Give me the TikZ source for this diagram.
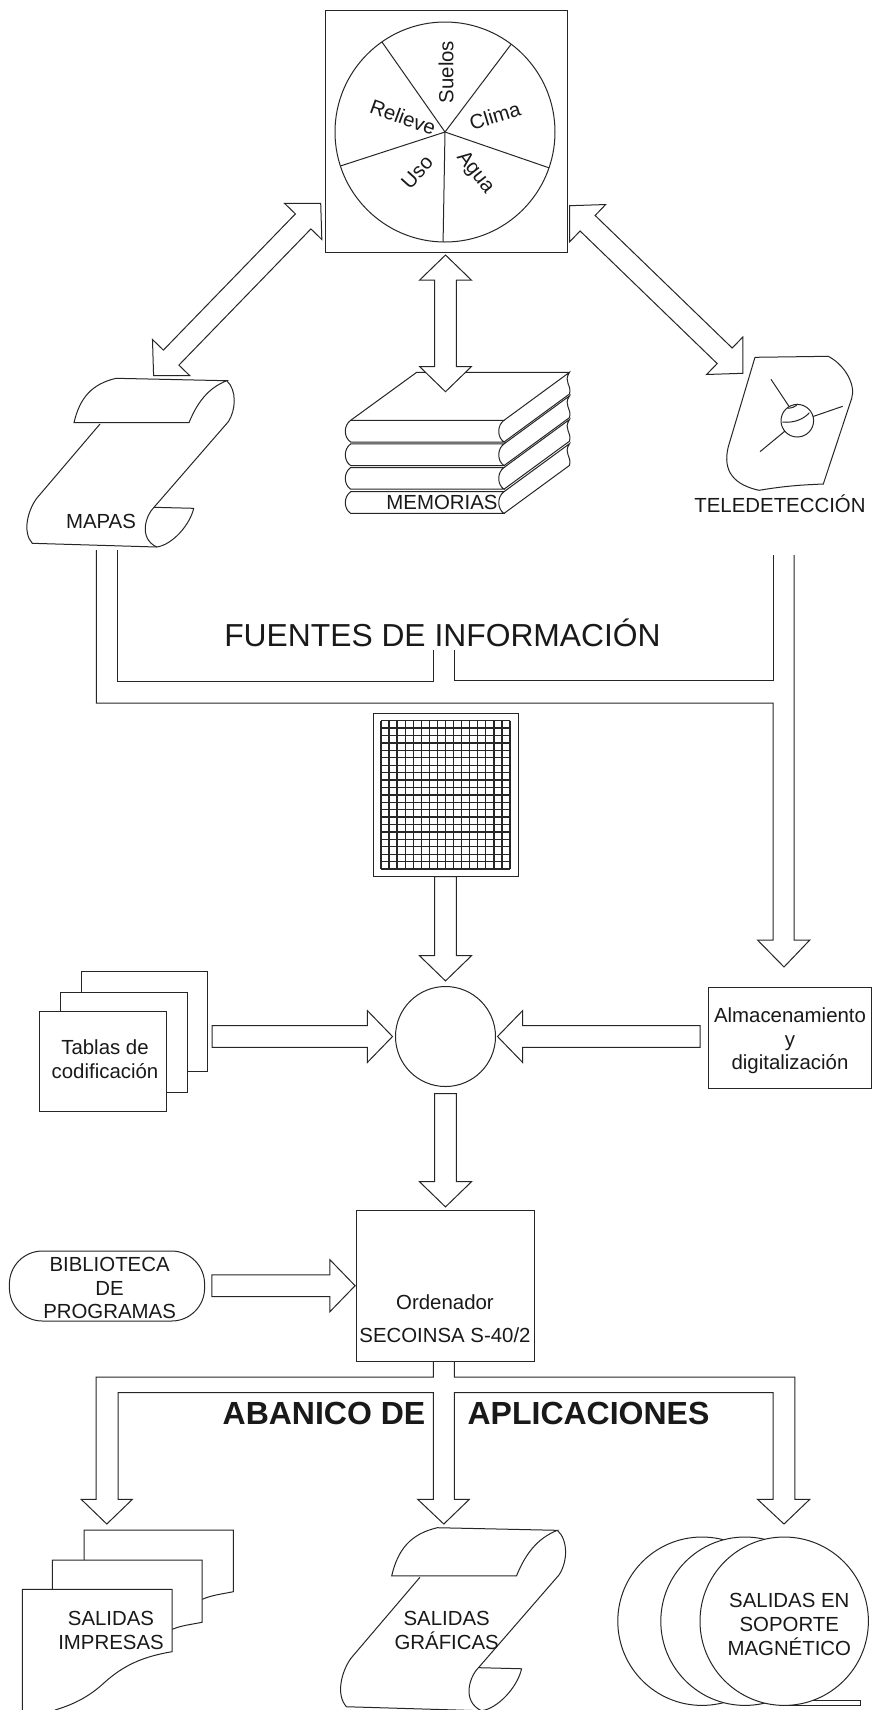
\documentclass[tikz,border=0pt]{standalone}
\usepackage{fontspec}
\setmainfont{Liberation Sans}
\usetikzlibrary{calc}

\tikzset{
  linea/.style={line width=0.5pt, black!85},
  caja/.style={linea, draw, rectangle, fill=white, inner sep=0pt, outer sep=0pt},
  disco/.style={linea, draw, circle, fill=white, inner sep=0pt, outer sep=0pt},
  bloque/.style={linea, fill=white, line join=miter},
  etiqueta/.style={black!90, inner sep=0pt, align=center, font=\fontsize{10.2}{11.8}\selectfont},
  titulo/.style={black!90, inner sep=0pt, font=\fontsize{15.9}{18}\selectfont},
  pics/rollo/.style={code={
    \draw[bloque] (48.3,44.4) .. controls (54,19.7) and (66,5.7) .. (90.3,0) -- (201,2.4)
      .. controls (182.3,9.7) and (171.3,24.7) .. (163.3,44.4) -- cycle;
    \draw[linea] (201,2.4) .. controls (211.3,11.7) and (210.3,31.7) .. (202.6,43.4) -- (128.3,129);
    \draw[linea] (74.3,45.7) -- (11,120) .. controls (2.3,131.7) and (-3.7,153.7) .. (6.6,165) -- (131,168.7);
    \draw[linea] (128.3,129) .. controls (120.3,136.7) and (112.3,159.7) .. (131,168.7)
      .. controls (146.3,166.7) and (164.3,146.7) .. (168,130) -- cycle;
  }}
}

% block arrow, one head
\newcommand{\flecha}[4]{
  \coordinate (ini) at ($(#1)!#3!(#2)$);
  \coordinate (fin) at ($(#2)!#4!(#1)$);
  \coordinate (bas) at ($(fin)!12.6pt!(ini)$);
  \draw[bloque] ($(ini)!5.4pt!90:(fin)$) -- ($(bas)!5.4pt!90:(fin)$) -- ($(bas)!13pt!90:(fin)$)
    -- (fin) -- ($(bas)!13pt!-90:(fin)$) -- ($(bas)!5.4pt!-90:(fin)$) -- ($(ini)!5.4pt!-90:(fin)$) -- cycle;
}
% block arrow, two heads
\newcommand{\flechadoble}[2]{
  \coordinate (ini) at (#1);
  \coordinate (fin) at (#2);
  \coordinate (bas) at ($(fin)!12.6pt!(ini)$);
  \coordinate (bab) at ($(ini)!12.6pt!(fin)$);
  \draw[bloque] (ini) -- ($(bab)!13pt!90:(fin)$) -- ($(bab)!5.4pt!90:(fin)$) -- ($(bas)!5.4pt!90:(fin)$)
    -- ($(bas)!13pt!90:(fin)$) -- (fin) -- ($(bas)!13pt!-90:(fin)$) -- ($(bas)!5.4pt!-90:(fin)$)
    -- ($(bab)!5.4pt!-90:(fin)$) -- ($(bab)!13pt!-90:(fin)$) -- cycle;
}

\begin{document}
\begin{tikzpicture}[x=0.5pt,y=-0.5pt]
\useasboundingbox[fill=white] (0,0) rectangle (872,1710);

% Top square with the wheel
\node[caja, minimum width=121pt, minimum height=121pt] (cuadro) at (446,131) {};
\node[disco, minimum size=110pt] (rueda) at (445,132) {};
\foreach \a in {125,53,-19,-91,198}
  \draw[linea] (rueda.center) -- (rueda.\a);
\node[etiqueta, rotate=90] (suelos) at (446,72) {Suelos};
\node[etiqueta, rotate=17] (clima) at (495,116) {Clima};
\node[etiqueta, rotate=-52] (agua) at (475,173) {Agua};
\node[etiqueta, rotate=48] (uso) at (417,172) {Uso};
\node[etiqueta, rotate=-20] (relieve) at (403,117) {Relieve};

% Map scroll
\pic at (25.7,378.3) {rollo};
\node[etiqueta] (mapas) at (101,521) {MAPAS};

% Stack of books
\draw[linea] (350.7,420.3) -- (416.7,372.3) -- (569.5,372.3);
\foreach \y in {420.3,443.9,467.5,491.7} {
  \draw[linea] (350.7,\y) .. controls (343.5,\y+5) and (343.5,\y+17) .. (350.7,\y+21.7)
    -- (504,\y+21.7) .. controls (497,\y+17) and (497,\y+5) .. (504,\y) -- cycle;
  \draw[linea] (504,\y) -- (569.5,\y-48) .. controls (563,\y-38) and (572,\y-36) .. (569.5,\y-26.3) -- (504,\y+21.7);
}
\node[etiqueta] (memorias) at (442,502.3) {MEMORIAS};

% Satellite image
\draw[linea] (755,357.3) -- (828.3,356.3) .. controls (845,365) and (856,385) .. (851.7,398.3)
  -- (823.3,484) .. controls (800,485) and (785,486) .. (759,490.3)
  .. controls (735,485) and (722,472) .. (728.3,446.7) -- cycle;
\node[disco, minimum size=16.3pt] (globo) at (797.3,420.7) {};
\draw[linea] (782.3,422) .. controls (795,423.5) and (805,418) .. (809.3,412.7);
\draw[linea] (787.7,408.3) .. controls (792,408) and (795,407) .. (797.7,404);
\draw[linea] (771,379.3) -- (globo.120);
\draw[linea] (760,451.7) -- (globo.220);
\draw[linea] (842.7,406.3) -- (globo.15);
\node[etiqueta] (teledeteccion) at (780,503.3) {TELEDETECCIÓN};

% Arrows between the square and the sources
\coordinate (cuadro-izq) at (320.7,203.3);
\coordinate (mapas-sup) at (153.6,375.7);
\coordinate (cuadro-der) at (569.5,205.7);
\coordinate (tele-sup) at (742.8,373.3);
\coordinate (libros-sup) at (445.5,391.7);
\flechadoble{cuadro-izq}{mapas-sup}
\flechadoble{cuadro-der}{tele-sup}
\flechadoble{$(cuadro.south -| libros-sup)+(0,3)$}{libros-sup}

% Channels below the sources
\node[titulo] (fuentes) at (442.5,633) {FUENTES DE INFORMACIÓN};
\coordinate (mapas-a) at (96.4,550);
\coordinate (mapas-b) at (117.7,550);
\coordinate (tele-a) at (773,555);
\coordinate (tele-b) at (794,555);
\draw[linea] (mapas-b) -- (117.7,681) -- (433.7,681) -- (433.7,650);
\draw[linea] (454.6,650) -- (454.6,680.5) -- (773,680.5) -- (tele-a);
\draw[bloque, fill=none] (mapas-a) -- (96.4,703) -- (773,703) -- (773,940) -- (757.5,940)
  -- (784,967) -- (809.8,940) -- (794,940) -- (tele-b);

% Grid
\node[caja, minimum width=72.5pt, minimum height=81.7pt] (rejilla) at (445.5,795) {};
\foreach \c in {0,...,16}
  \draw[linea, line width=0.65pt] ({381+\c*8.0625},720.7) -- ({381+\c*8.0625},869);
\foreach \f in {0,...,20}
  \draw[linea, line width=0.65pt] (381,{720.7+\f*7.415}) -- (510,{720.7+\f*7.415});

% Tables
\node[caja, minimum width=63.3pt, minimum height=50pt] (tabla3) at (144.3,1021.7) {};
\node[caja, minimum width=63.2pt, minimum height=50pt] (tabla2) at (124.1,1042.3) {};
\node[caja, minimum width=63.5pt, minimum height=49.8pt] (tabla1) at (102.8,1061.5) {};
\node[etiqueta] (tablas) at (105,1059) {Tablas de\\codificación};

% Central circle
\node[disco, minimum size=50pt] (nucleo) at (445.5,1036.5) {};
\node[caja, minimum width=81.3pt, minimum height=50.5pt] (almacen) at (789.8,1037.5) {};
\node[etiqueta] (almacentxt) at (790,1041) {Almacenamiento\\y\\digitalización};
\flecha{rejilla.south}{nucleo.north}{0pt}{2.8pt}
\flecha{tabla3.east |- nucleo.west}{nucleo.west}{2.3pt}{1.5pt}
\flecha{almacen.west |- nucleo.east}{nucleo.east}{4.2pt}{1pt}

% Computer and program library
\node[caja, minimum width=89.2pt, minimum height=75.6pt] (ordenador) at (445.5,1285.7) {};
\node[etiqueta] (ordtxt) at (445,1318.5) {Ordenador\\[4.7pt]SECOINSA S-40/2};
\node[caja, rounded corners=16.5pt, minimum width=97.6pt, minimum height=35pt] (biblioteca) at (107,1286) {};
\node[etiqueta] (bibtxt) at (109.6,1288) {BIBLIOTECA\\DE\\PROGRAMAS};
\flecha{nucleo.south}{ordenador.north}{3.5pt}{1.6pt}
\flecha{biblioteca.east |- ordenador.west}{ordenador.west}{3.6pt}{0.6pt}

% Fan of applications
\coordinate (abanico-a) at (433.3,1361.3);
\coordinate (abanico-b) at (454.4,1361.3);
\draw[bloque, fill=none] (abanico-a) -- (433.3,1377) -- (96.2,1377) -- (96.2,1499.3) -- (81.2,1499.3)
  -- (106.8,1524) -- (132.4,1499.3) -- (118,1499.3) -- (118,1392.7) -- (433.3,1392.7) -- (433.3,1499.3)
  -- (417.7,1499.3) -- (443.8,1524) -- (469.4,1499.3) -- (454.4,1499.3) -- (454.4,1392.7)
  -- (773,1392.7) -- (773,1499.3) -- (757.5,1499.3) -- (784,1524) -- (809.8,1499.3) -- (794.8,1499.3)
  -- (794.8,1377) -- (454.4,1377) -- (abanico-b);
\node[titulo, font=\fontsize{16}{18}\bfseries\selectfont] (abanico) at (324,1413.5) {ABANICO DE};
\node[titulo, font=\fontsize{16}{18}\bfseries\selectfont] (aplicaciones) at (588.5,1413.5) {APLICACIONES};

% Printed sheets
\draw[linea] (84,1560) -- (84,1530) -- (233.3,1530) -- (233.3,1591.7)
  .. controls (222,1594) and (212,1595) .. (202.3,1599.3);
\draw[linea] (52.3,1589.3) -- (52.3,1560) -- (202,1560) -- (202,1622.3)
  .. controls (191,1624.5) and (181,1625.5) .. (172.3,1629.3);
\draw[linea] (22.3,1712) -- (22.3,1589.3) -- (172,1589.3) -- (172,1651.7)
  .. controls (140,1657) and (122,1667) .. (105,1682) .. controls (90,1696) and (75,1704) .. (55,1710);
\node[etiqueta] (impresas) at (111,1630.3) {SALIDAS\\IMPRESAS};

% Plotter scroll
\pic[scale=1.085] at (339.3,1527.7) {rollo};
\node[etiqueta] (graficas) at (446.7,1630.3) {SALIDAS\\GRÁFICAS};

% Magnetic reels
\node[disco, minimum size=84.2pt] (cinta3) at (702,1621.2) {};
\node[disco, minimum size=84.2pt] (cinta2) at (745,1621.2) {};
\node[disco, minimum size=84.2pt] (cinta1) at (784.2,1621.2) {};
\draw[linea] (811.7,1700.5) -- (860,1700.5) -- (860,1705.7) -- (783.3,1705.7);
\node[etiqueta] (magnetico) at (789.3,1624.5) {SALIDAS EN\\SOPORTE\\MAGNÉTICO};
\end{tikzpicture}
\end{document}
